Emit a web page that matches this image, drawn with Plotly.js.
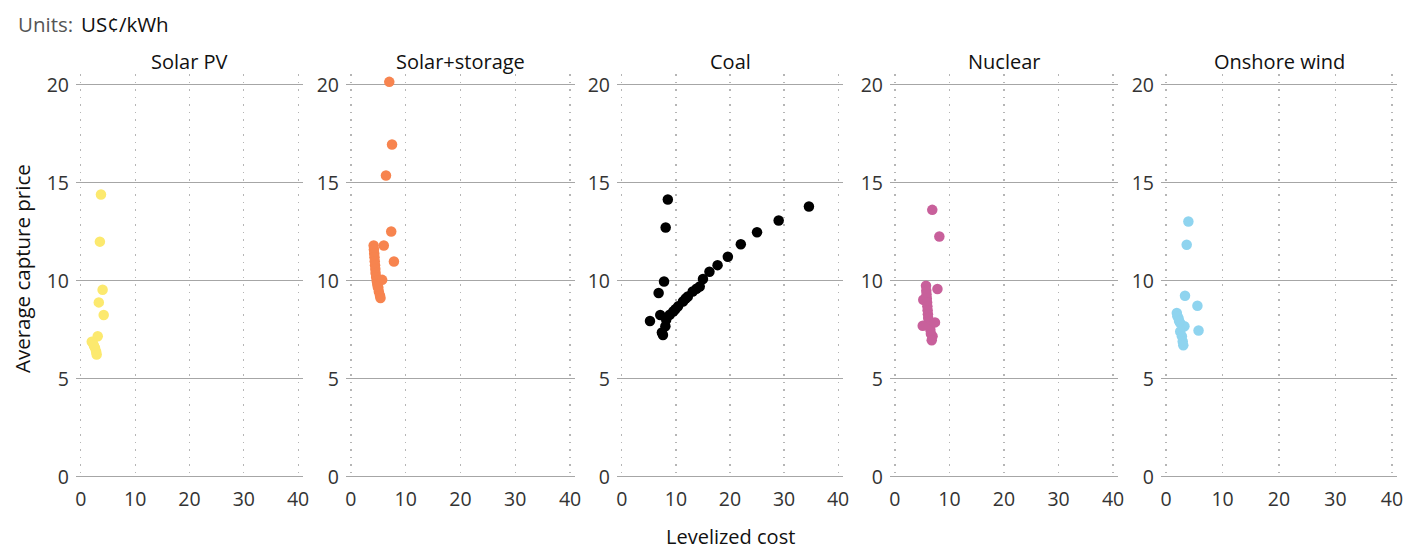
<!DOCTYPE html>
<html>
<head>
<meta charset="utf-8">
<script src="https://cdn.plot.ly/plotly-3.0.1.min.js"></script>
<style>html,body{margin:0;padding:0;background:#fff;}#chart{width:1404px;height:550px;}</style>
</head>
<body>
<div id="chart"></div>
<script>
// ---- Data (US¢/kWh) ----
const panelTitles = ["Solar PV", "Solar+storage", "Coal", "Nuclear", "Onshore wind"];
const xTicks = [0, 10, 20, 30, 40];
const yTicks = [0, 5, 10, 15, 20];

const solarPvCost  = [3.7, 3.5, 4.0, 3.3, 4.2, 3.1, 2.2, 2.6, 2.9, 2.0, 2.8, 2.4];
const solarPvPrice = [14.4, 12.0, 9.55, 8.9, 8.26, 7.17, 6.83, 6.58, 6.24, 6.9, 6.4, 6.7];

const solarStorCost  = [7.0, 7.5, 6.4, 7.35, 6.0, 7.85, 4.15, 4.2, 4.25, 4.3, 4.35, 4.4, 4.45, 4.5, 4.6, 4.7, 4.8, 5.0, 5.1, 5.3, 5.4, 5.7, 4.9];
const solarStorPrice = [20.15, 16.95, 15.37, 12.52, 11.8, 10.99, 11.8, 11.6, 11.4, 11.2, 11.0, 10.8, 10.6, 10.4, 10.2, 10.0, 9.85, 9.65, 9.45, 9.25, 9.12, 10.05, 9.7];

const coalCost  = [8.5, 8.1, 34.6, 29.0, 25.0, 22.0, 19.6, 17.7, 16.2, 15.0, 7.8, 6.8, 5.2, 7.1, 7.4, 7.6, 8.05, 14.4, 13.1, 12.2, 11.3, 10.4, 9.5, 8.85, 8.2, 13.8, 11.8, 9.9];
const coalPrice = [14.15, 12.72, 13.79, 13.08, 12.48, 11.87, 11.23, 10.8, 10.46, 10.09, 9.97, 9.38, 7.95, 8.26, 7.37, 7.24, 7.68, 9.71, 9.46, 9.2, 8.95, 8.7, 8.44, 8.27, 8.02, 9.6, 9.1, 8.55];

const nuclearCost  = [6.85, 8.15, 7.8, 5.7, 5.2, 5.75, 5.8, 5.85, 5.9, 5.95, 6.0, 6.05, 6.1, 6.2, 6.4, 6.5, 6.6, 5.1, 7.35, 6.9, 6.75];
const nuclearPrice = [13.62, 12.26, 9.58, 9.75, 9.04, 9.5, 9.3, 9.1, 8.9, 8.7, 8.5, 8.3, 8.1, 7.9, 7.7, 7.5, 7.3, 7.71, 7.88, 7.17, 6.97];

const windCost  = [3.95, 3.65, 3.35, 5.55, 5.75, 1.9, 2.2, 2.5, 3.25, 2.5, 2.8, 2.95, 3.05, 2.0, 2.3];
const windPrice = [13.03, 11.84, 9.24, 8.73, 7.47, 8.36, 8.1, 7.85, 7.68, 7.42, 7.17, 6.91, 6.71, 8.2, 7.95];

const seriesCost  = [solarPvCost, solarStorCost, coalCost, nuclearCost, windCost];
const seriesPrice = [solarPvPrice, solarStorPrice, coalPrice, nuclearPrice, windPrice];
const seriesColors = ["#fce96e", "#f7844f", "#000000", "#c8609b", "#8fd4ef"];

// ---- Layout geometry ----
const W = 1404, H = 550;
const panelPx = [[76, 303], [346, 575], [617, 843], [890, 1118], [1161, 1397]];
const yTopPx = 74, yBotPx = 477.5;
const FONT = "'Open Sans', 'Noto Sans', sans-serif";

const traces = [];
const layout = {
  width: W, height: H,
  margin: {l: 0, r: 0, t: 0, b: 0},
  paper_bgcolor: "#ffffff", plot_bgcolor: "#ffffff",
  showlegend: false,
  font: {family: FONT, size: 18, color: "#333"},
  annotations: [],
  shapes: []
};

for (let i = 0; i < 5; i++) {
  const s = i === 0 ? "" : String(i + 1);
  traces.push({
    type: "scatter", mode: "markers",
    x: seriesCost[i], y: seriesPrice[i],
    xaxis: "x" + s, yaxis: "y" + s,
    marker: {color: seriesColors[i], size: 10.5, line: {width: 0}},
    hoverinfo: "x+y"
  });
  layout["xaxis" + s] = {
    domain: [panelPx[i][0] / W, panelPx[i][1] / W],
    anchor: "y" + s,
    range: [-0.9, 40.9],
    tickvals: xTicks, ticktext: xTicks.map(String),
    showgrid: true, gridcolor: "#b5b5b5", gridwidth: 1.2, griddash: "1.5px,6px",
    zeroline: false, showline: false, ticks: "",
    ticklabelstandoff: 8,
    tickfont: {family: FONT, size: 19.5, color: "#333"},
    automargin: false, fixedrange: true
  };
  layout["yaxis" + s] = {
    domain: [(H - yBotPx) / H, (H - yTopPx) / H],
    anchor: "x" + s,
    range: [-0.03, 20.55],
    tickvals: yTicks, ticktext: yTicks.map(String),
    showgrid: true, gridcolor: "#a6a6a6", gridwidth: 1,
    zeroline: true, zerolinecolor: "#a6a6a6", zerolinewidth: 1,
    showline: false, ticks: "",
    ticklabelstandoff: 6,
    tickfont: {family: FONT, size: 19.5, color: "#333"},
    automargin: false, fixedrange: true
  };
  layout.annotations.push({
    text: panelTitles[i], xref: "paper", yref: "paper",
    x: (panelPx[i][0] + panelPx[i][1]) / 2 / W, y: (H - 62) / H,
    xanchor: "center", yanchor: "middle", showarrow: false,
    font: {family: FONT, size: 20, color: "#111"}
  });
}

layout.annotations.push({
  text: "Units:",
  xref: "paper", yref: "paper", x: 16 / W, y: (H - 24) / H,
  xanchor: "left", yanchor: "middle", showarrow: false,
  font: {family: FONT, size: 20.5, color: "#555"}
});
layout.annotations.push({
  text: "US¢/kWh",
  xref: "paper", yref: "paper", x: 79 / W, y: (H - 24) / H,
  xanchor: "left", yanchor: "middle", showarrow: false,
  font: {family: FONT, size: 20.5, color: "#111"}
});
layout.annotations.push({
  text: "Average capture price",
  xref: "paper", yref: "paper", x: 22 / W, y: (H - 269) / H,
  xanchor: "center", yanchor: "middle", textangle: -90, showarrow: false,
  font: {family: FONT, size: 20.5, color: "#111"}
});
layout.annotations.push({
  text: "Levelized cost",
  xref: "paper", yref: "paper", x: 730 / W, y: (H - 536) / H,
  xanchor: "center", yanchor: "middle", showarrow: false,
  font: {family: FONT, size: 20, color: "#111"}
});

Plotly.newPlot("chart", traces, layout, {displayModeBar: false, staticPlot: true});
</script>
</body>
</html>
